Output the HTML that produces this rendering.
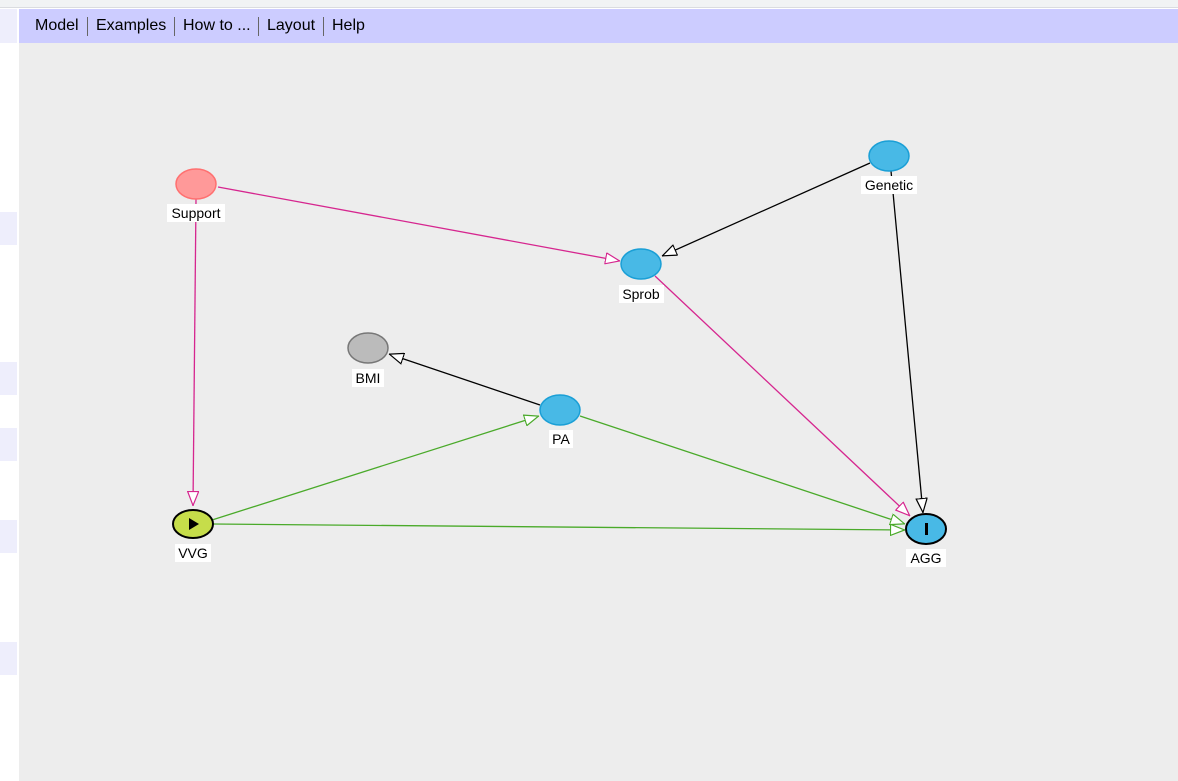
<!DOCTYPE html>
<html><head><style>
body{margin:0;width:1178px;height:781px;overflow:hidden;background:#fff;font-family:"Liberation Sans",Arial,sans-serif;position:relative}
.top{position:absolute;left:0;top:0;width:1178px;height:7px;background:#f1f3f4;border-bottom:1px solid #dadce0}
.menu{position:absolute;left:19px;top:9px;width:1159px;height:34px;background:#ccccff;font-size:16px;color:#000}
.menu span{position:absolute;top:8px}
.sep{position:absolute;top:8px;width:1px;height:19px;background:#666}
.main{position:absolute;left:19px;top:43px;width:1159px;height:738px;background:#ededed}
.lb{position:absolute;left:0;width:17px;background:#eeeefc}
</style></head><body>
<div class="top"></div>
<div class="lb" style="top:9px;height:34px"></div>
<div class="lb" style="top:212px;height:33px"></div>
<div class="lb" style="top:362px;height:33px"></div>
<div class="lb" style="top:428px;height:33px"></div>
<div class="lb" style="top:520px;height:33px"></div>
<div class="lb" style="top:642px;height:33px"></div>
<div class="menu">
<span style="left:16px">Model</span><div class="sep" style="left:68px"></div>
<span style="left:77px">Examples</span><div class="sep" style="left:155px"></div>
<span style="left:164px">How to ...</span><div class="sep" style="left:239px"></div>
<span style="left:248px">Layout</span><div class="sep" style="left:304px"></div>
<span style="left:313px">Help</span>
</div>
<div class="main"></div>
<svg width="1178" height="781" style="position:absolute;left:0;top:0" font-family="Liberation Sans, Arial, sans-serif" font-size="14">
<defs>
<marker id="mk" viewBox="0 0 15 12" refX="15" refY="6" markerWidth="15" markerHeight="12" markerUnits="userSpaceOnUse" orient="auto"><path d="M0.5,0.5 L14.5,6 L0.5,11.5 Z" fill="#fff" stroke="#000" stroke-width="1.2"/></marker>
<marker id="mm" viewBox="0 0 15 12" refX="15" refY="6" markerWidth="15" markerHeight="12" markerUnits="userSpaceOnUse" orient="auto"><path d="M0.5,0.5 L14.5,6 L0.5,11.5 Z" fill="#fff" stroke="#d6268f" stroke-width="1.2"/></marker>
<marker id="mg" viewBox="0 0 15 12" refX="15" refY="6" markerWidth="15" markerHeight="12" markerUnits="userSpaceOnUse" orient="auto"><path d="M0.5,0.5 L14.5,6 L0.5,11.5 Z" fill="#fff" stroke="#4aaa2a" stroke-width="1.2"/></marker>
</defs>
<g stroke-width="1.3" fill="none">
<line x1="218" y1="187" x2="620" y2="261" stroke="#d6268f" marker-end="url(#mm)"/>
<line x1="196" y1="199" x2="193" y2="506" stroke="#d6268f" marker-end="url(#mm)"/>
<line x1="655" y1="276" x2="910" y2="516" stroke="#d6268f" marker-end="url(#mm)"/>
<line x1="870" y1="163" x2="662" y2="256" stroke="#000" marker-end="url(#mk)"/>
<line x1="891" y1="171" x2="923" y2="513" stroke="#000" marker-end="url(#mk)"/>
<line x1="540" y1="405" x2="389" y2="354" stroke="#000" marker-end="url(#mk)"/>
<line x1="212" y1="520" x2="539" y2="416" stroke="#4aaa2a" marker-end="url(#mg)"/>
<line x1="580" y1="416" x2="905" y2="524" stroke="#4aaa2a" marker-end="url(#mg)"/>
<line x1="213" y1="524" x2="905" y2="530" stroke="#4aaa2a" marker-end="url(#mg)"/>
</g>
<ellipse cx="196" cy="184" rx="20" ry="15" fill="#ff9999" stroke="#ff7070" stroke-width="1.5"/>
<ellipse cx="889" cy="156" rx="20" ry="15" fill="#48b9e6" stroke="#1a9fd6" stroke-width="1.5"/>
<ellipse cx="641" cy="264" rx="20" ry="15" fill="#48b9e6" stroke="#1a9fd6" stroke-width="1.5"/>
<ellipse cx="368" cy="348" rx="20" ry="15" fill="#bbbbbb" stroke="#777" stroke-width="1.5"/>
<ellipse cx="560" cy="410" rx="20" ry="15" fill="#48b9e6" stroke="#1a9fd6" stroke-width="1.5"/>
<ellipse cx="193" cy="524" rx="20" ry="14" fill="#c6dd4a" stroke="#000" stroke-width="2"/>
<path d="M189,518 L199,524 L189,530 Z" fill="#000"/>
<ellipse cx="926" cy="529" rx="20" ry="15" fill="#48b9e6" stroke="#000" stroke-width="2"/>
<rect x="925" y="523" width="3" height="12" fill="#000"/>
<g fill="#fff">
<rect x="167" y="204" width="58" height="18"/>
<rect x="861" y="176" width="56" height="18"/>
<rect x="619" y="285" width="45" height="18"/>
<rect x="352" y="369" width="32" height="18"/>
<rect x="549" y="430" width="24" height="18"/>
<rect x="175" y="544" width="36" height="18"/>
<rect x="906" y="549" width="40" height="18"/>
</g>
<g fill="#000" text-anchor="middle">
<text x="196" y="218">Support</text>
<text x="889" y="190">Genetic</text>
<text x="641" y="299">Sprob</text>
<text x="368" y="383">BMI</text>
<text x="561" y="444">PA</text>
<text x="193" y="558">VVG</text>
<text x="926" y="563">AGG</text>
</g>
</svg>
</body></html>
